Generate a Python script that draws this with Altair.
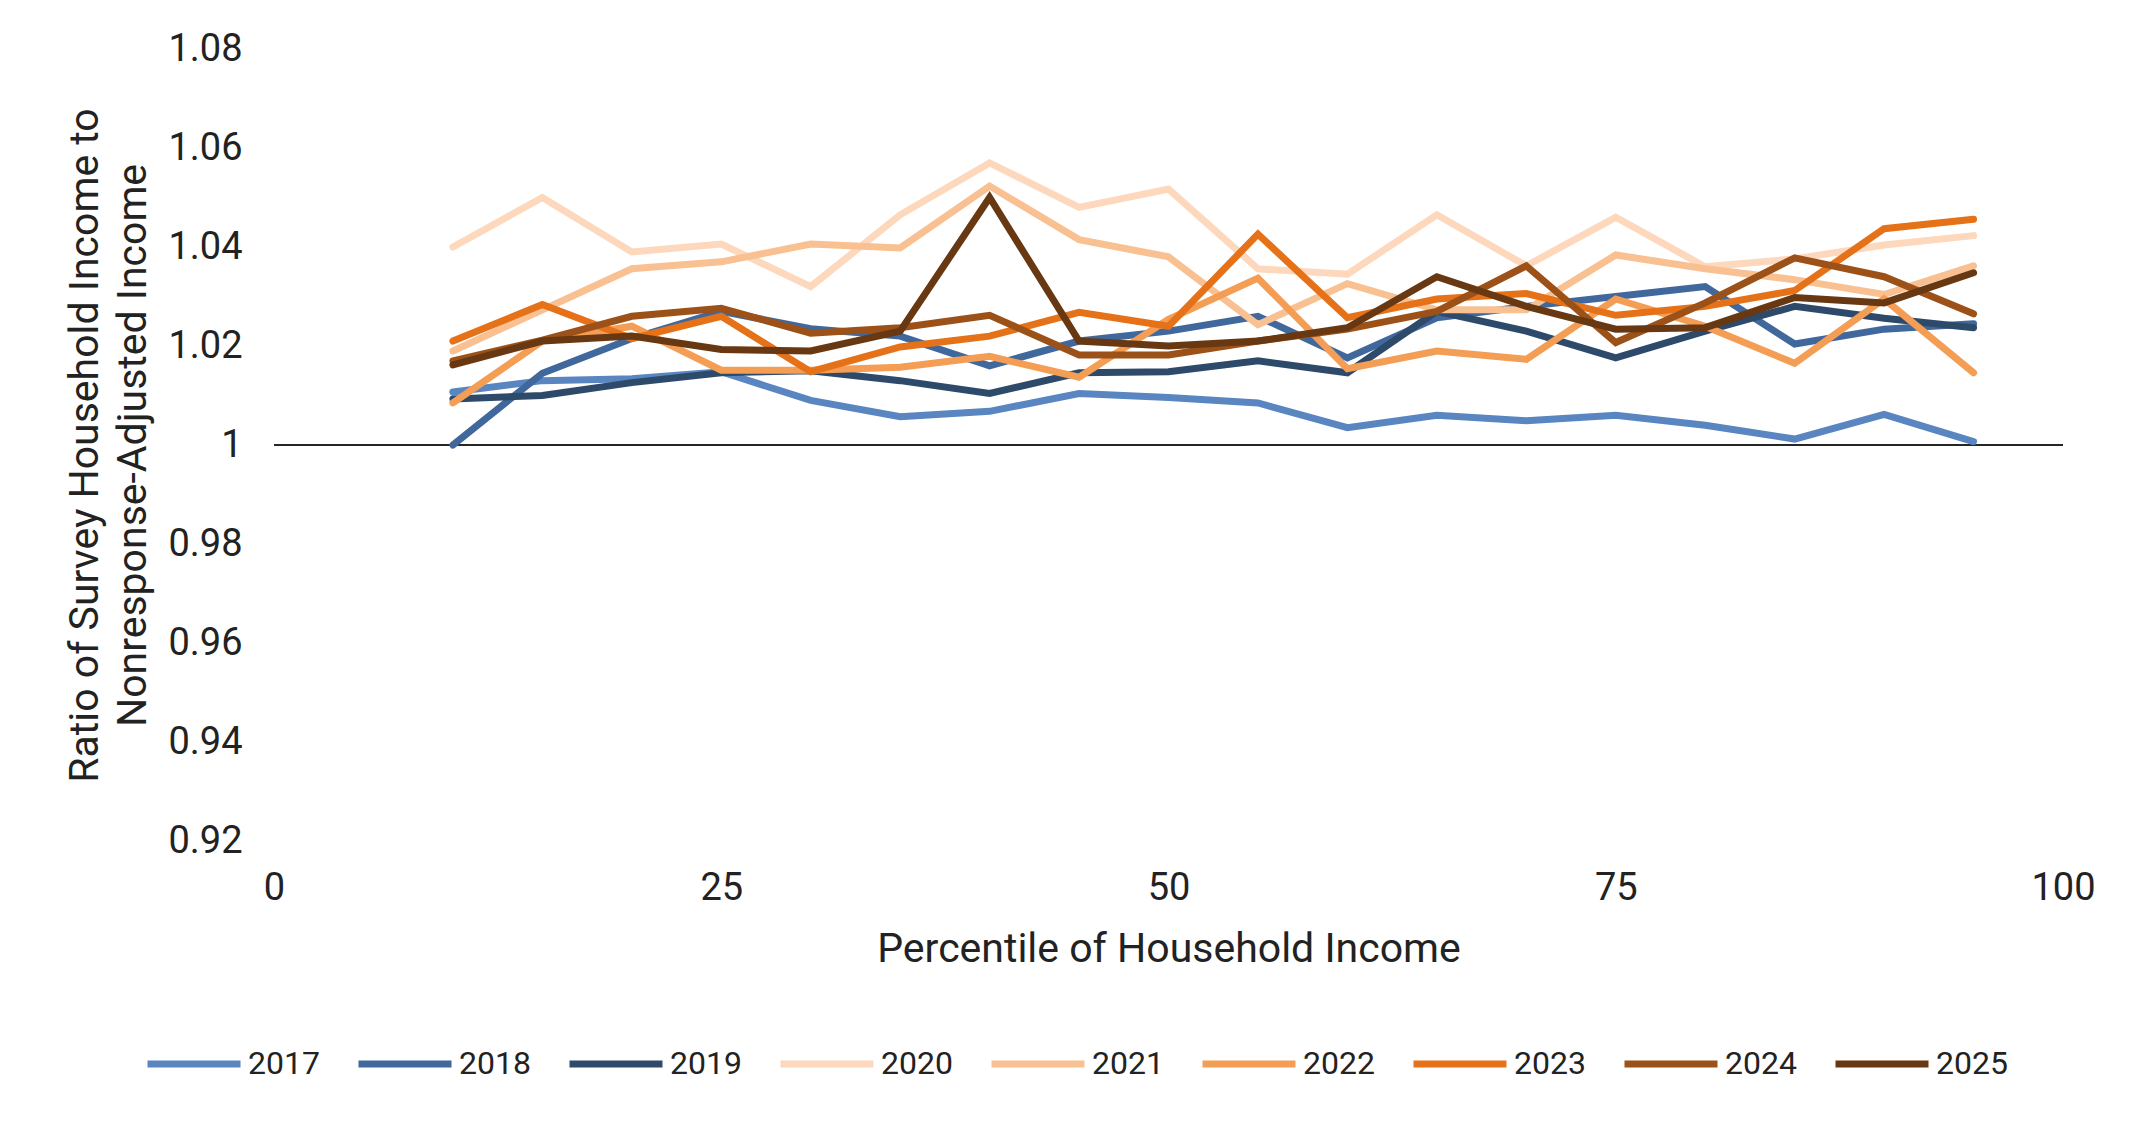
import altair as alt
import pandas as pd

percentiles = [10, 15, 20, 25, 30, 35, 40, 45, 50, 55, 60, 65, 70, 75, 80, 85, 90, 95]

years = ["2017", "2018", "2019", "2020", "2021", "2022", "2023", "2024", "2025"]

y2017 = [1.0107, 1.0130, 1.0134, 1.0148, 1.0090, 1.0057, 1.0068, 1.0104, 1.0096, 1.0085,
         1.0035, 1.0060, 1.0049, 1.0060, 1.0040, 1.0012, 1.0062, 1.0007]
y2018 = [1.0000, 1.0145, 1.0215, 1.0270, 1.0235, 1.0220, 1.0160, 1.0210, 1.0230, 1.0260,
         1.0176, 1.0257, 1.0280, 1.0300, 1.0320, 1.0204, 1.0234, 1.0245]
y2019 = [1.0093, 1.0100, 1.0126, 1.0146, 1.0150, 1.0130, 1.0104, 1.0146, 1.0148, 1.0170,
         1.0146, 1.0270, 1.0230, 1.0176, 1.0230, 1.0280, 1.0256, 1.0237]
y2020 = [1.0400, 1.0500, 1.0390, 1.0406, 1.0320, 1.0465, 1.0570, 1.0480, 1.0517, 1.0356,
         1.0345, 1.0465, 1.0362, 1.0460, 1.0360, 1.0376, 1.0404, 1.0423]
y2021 = [1.0190, 1.0273, 1.0356, 1.0370, 1.0406, 1.0398, 1.0523, 1.0415, 1.0380, 1.0243,
         1.0326, 1.0273, 1.0273, 1.0384, 1.0356, 1.0334, 1.0304, 1.0362]
y2022 = [1.0085, 1.0210, 1.0240, 1.0151, 1.0151, 1.0157, 1.0179, 1.0137, 1.0254, 1.0337,
         1.0154, 1.0190, 1.0173, 1.0295, 1.0240, 1.0165, 1.0295, 1.0146]
y2023 = [1.0210, 1.0284, 1.0215, 1.0260, 1.0148, 1.0198, 1.0220, 1.0268, 1.0240, 1.0426,
         1.0257, 1.0295, 1.0306, 1.0262, 1.0280, 1.0312, 1.0437, 1.0456]
y2024 = [1.0170, 1.0212, 1.0260, 1.0276, 1.0226, 1.0237, 1.0262, 1.0182, 1.0182, 1.0210,
         1.0234, 1.0270, 1.0362, 1.0207, 1.0287, 1.0378, 1.0340, 1.0265]
y2025 = [1.0162, 1.0210, 1.0220, 1.0193, 1.0190, 1.0230, 1.0500, 1.0210, 1.0200, 1.0210,
         1.0237, 1.0340, 1.0280, 1.0234, 1.0237, 1.0298, 1.0287, 1.0348]

colors = ["#5986C0", "#41689C", "#2E4A6B", "#FDD8BC", "#F9C092", "#F49D55",
          "#E57219", "#9C5118", "#673811"]

series = [y2017, y2018, y2019, y2020, y2021, y2022, y2023, y2024, y2025]
rows = []
for yr, vals in zip(years, series):
    for p, v in zip(percentiles, vals):
        rows.append({"pct": p, "ratio": v, "year": yr})
df = pd.DataFrame(rows)

y_ticks = [0.92, 0.94, 0.96, 0.98, 1.0, 1.02, 1.04, 1.06, 1.08]
x_ticks = [0, 25, 50, 75, 100]

FONT = "Roboto"
TXT = "#222222"

x_enc = alt.X(
    "pct:Q",
    scale=alt.Scale(domain=[0, 100], nice=False),
    axis=alt.Axis(
        values=x_ticks,
        title="Percentile of Household Income",
        labelFontSize=38,
        titleFontSize=41,
        labelPadding=28,
        titlePadding=22,
        labelFlush=False,
    ),
)
y_enc = alt.Y(
    "ratio:Q",
    scale=alt.Scale(domain=[0.92, 1.08], nice=False, zero=False),
    axis=alt.Axis(
        values=y_ticks,
        labelExpr="datum.value == 1 ? '1' : format(datum.value, '.2f')",
        title=["Ratio of Survey Household Income to", "Nonresponse-Adjusted Income"],
        labelFontSize=38,
        titleFontSize=41,
        titleLineHeight=48,
        labelPadding=32,
        labelFlush=False,
        titleX=-189,
        titleY=396,
        titleAngle=270,
        titleAlign="center",
        titleBaseline="middle",
    ),
)

lines = alt.Chart(df).mark_line(strokeWidth=7, strokeCap="round").encode(
    x=x_enc,
    y=y_enc,
    color=alt.Color(
        "year:N",
        scale=alt.Scale(domain=years, range=colors),
        legend=alt.Legend(
            title=None,
            orient="none",
            direction="horizontal",
            columns=9,
            legendX=-130,
            legendY=965,
            symbolType="stroke",
            symbolSize=8649,
            symbolStrokeWidth=7,
            labelFontSize=32,
            labelOffset=4,
            columnPadding=24,
            labelFont=FONT,
            labelColor=TXT,
        ),
    ),
)

rule = alt.Chart(pd.DataFrame({"ratio": [1.0]})).mark_rule(
    color="#262626", strokeWidth=2
).encode(y=alt.Y("ratio:Q"))

chart = (
    alt.layer(rule, lines)
    .properties(
        width=1789,
        height=792,
        autosize=alt.AutoSizeParams(type="none"),
        padding={"left": 266, "top": 41, "right": 73, "bottom": 273},
    )
    .configure_view(stroke=None)
    .configure_axis(
        domain=False,
        ticks=False,
        grid=False,
        labelFont=FONT,
        titleFont=FONT,
        labelColor=TXT,
        titleColor=TXT,
        titleFontWeight="normal",
    )
)

chart.save("out.html", embed_options={"renderer": "svg", "actions": False})
